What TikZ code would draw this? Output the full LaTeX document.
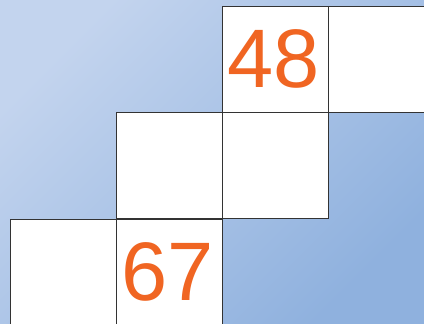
\documentclass[tikz,border=0pt]{standalone}
\usepackage{fontspec}
\setmainfont{Liberation Sans}
\definecolor{bgA}{HTML}{C3D4EE}
\definecolor{bgB}{HTML}{8FB1DE}
\definecolor{numc}{HTML}{F06522}
\definecolor{edge}{HTML}{333333}
\begin{document}
\begin{tikzpicture}[x=1pt,y=-1pt,
  cell/.style={draw=edge,line width=0.9pt,fill=white,minimum size=106pt,inner sep=0pt,outer sep=0pt,anchor=north west},
  num/.style={text=numc,font=\fontsize{83}{83}\selectfont}]
\useasboundingbox (0,0) rectangle (424,324);
\shade[shading=axis,top color=bgA,bottom color=bgB,shading angle=45] (0,0) rectangle (424,324);
\node[cell] (c1) at (222,6) {};
\node[cell] (c2) at (328,6) {};
\node[cell] (c3) at (116,112) {};
\node[cell] (c4) at (222,112) {};
\node[cell] (c5) at (10,219) {};
\node[cell] (c6) at (116,219) {};
\node[num] (n48) at ([xshift=-1pt]c1.center) {48};
\node[num] (n67) at ([xshift=-1pt]c6.center) {67};
\end{tikzpicture}
\end{document}
